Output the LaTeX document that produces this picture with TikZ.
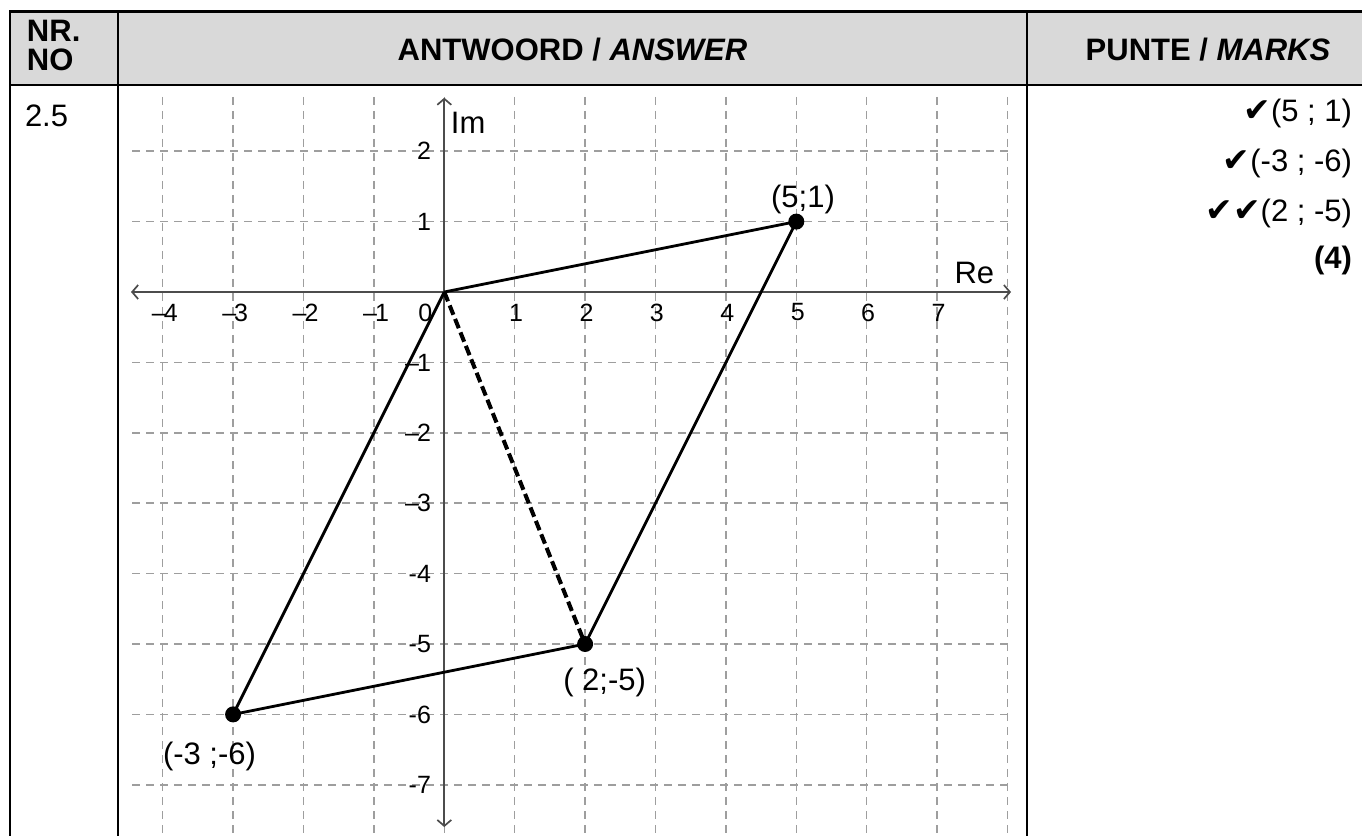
\documentclass[tikz,border=0pt]{standalone}
\usepackage{fontspec}
\setmainfont{Liberation Sans}
\newfontfamily\djv{DejaVu Sans}
\usetikzlibrary{arrows.meta}
\newcommand{\chk}{{\djv\fontsize{33}{36}\selectfont ✔}}
\begin{document}
\begin{tikzpicture}[x=1pt,y=-1pt,
  txt/.style={font=\fontsize{31}{37}\selectfont, inner sep=0pt, outer sep=0pt},
  btxt/.style={font=\fontsize{31}{37}\selectfont\bfseries, inner sep=0pt, outer sep=0pt},
  ticklab/.style={font=\fontsize{25}{29}\selectfont, inner sep=0pt, outer sep=0pt},
  tbl/.style={line width=2.5pt, black},
  gridl/.style={line width=1.5pt, draw=black!38, dash pattern=on 8pt off 6pt},
  axisl/.style={line width=1.7pt, draw=black!70},
  side/.style={line width=2.8pt, black},
  diag/.style={line width=4pt, black, dash pattern=on 10pt off 4.5pt},
  vdot/.style={circle, fill=black, inner sep=0pt, minimum size=16pt}
]
\useasboundingbox (0,0) rectangle (1362,836);
% table
\fill[black!15] (10,11.5) rectangle (1362,85);
\draw[tbl] (1362,11.5) -- (10,11.5) -- (10,836);
\draw[tbl] (10,85) -- (1362,85);
\draw[tbl] (118,11.5) -- (118,836);
\draw[tbl] (1027,11.5) -- (1027,836);
% header
\node[btxt, anchor=base west] (hnr) at (27,41.7) {NR.};
\node[btxt, anchor=base west] (hno) at (27,70) {NO};
\node[btxt, anchor=base] (hans) at (572.5,60) {ANTWOORD / \textit{ANSWER}};
\node[btxt, anchor=base] (hmarks) at (1208,60) {PUNTE / \textit{MARKS}};
\node[txt, anchor=base west] (qno) at (25,126.7) {2.5};
% marks
\node[txt, anchor=base east] (m1) at (1352,121) {\chk(5 ; 1)};
\node[txt, anchor=base east] (m2) at (1352,171) {\chk(-3 ; -6)};
\node[txt, anchor=base east] (m3) at (1352,221) {\chk\chk(2 ; -5)};
\node[btxt, anchor=base east] (m4) at (1352,268) {(4)};
% graph
\begin{scope}[shift={(444.3,292)}, x=70.4pt, y=70.4pt]
  \foreach \i in {-4,...,8} \draw[gridl] (\i,2.77) -- (\i,-7.75);
  \foreach \j in {2,1,-1,-2,-3,-4,-5,-6,-7} \draw[gridl] (-4.43,\j) -- (8,\j);
  \draw[axisl, {Straight Barb[length=6pt,width=14pt]}-{Straight Barb[length=6pt,width=14pt]}] (-4.45,0) -- (8.05,0);
  \draw[axisl, {Straight Barb[length=6pt,width=14pt]}-{Straight Barb[length=6pt,width=14pt]}] (0,-7.6) -- (0,2.76);
  % x tick labels
  \foreach \i in {1,...,7} \node[ticklab] at (\i+0.02,-0.29) {\i};
  \foreach \i in {4,3,2,1} \node[ticklab] at (-\i+0.03,-0.29) {\textendash\kern-2pt\i};
  \node[ticklab] at (-0.27,-0.29) {0};
  % y tick labels
  \node[ticklab, anchor=east] at (-0.19,2) {2};
  \node[ticklab, anchor=east] at (-0.19,1) {1};
  \foreach \j in {1,2,3} \node[ticklab, anchor=east] at (-0.19,-\j) {\textendash\kern-2pt\j};
  \foreach \j in {4,5,6,7} \node[ticklab, anchor=east] at (-0.19,-\j) {-\j};
  % axis labels
  \node[txt, anchor=west] (im) at (0.095,2.4) {Im};
  \node[txt, anchor=east] (re) at (7.81,0.27) {Re};
  % vertices
  \coordinate (O) at (0,0);
  \coordinate (A) at (5,1);
  \coordinate (B) at (2,-5);
  \coordinate (C) at (-3,-6);
  \draw[side] (O) -- (A);
  \draw[side] (A) -- (B);
  \draw[side] (B) -- (C);
  \draw[side] (C) -- (O);
  \draw[diag] (O) -- (B);
  \node[vdot] (dA) at (A) {};
  \node[vdot] (dB) at (B) {};
  \node[vdot] (dC) at (C) {};
  \node[txt] (lA) at (5.095,1.31) {(5;1)};
  \node[txt, anchor=east] (lB) at (2.865,-5.55) {( 2;-5)};
  \node[txt] (lC) at (-3.335,-6.6) {(-3 ;-6)};
\end{scope}
\end{tikzpicture}
\end{document}
